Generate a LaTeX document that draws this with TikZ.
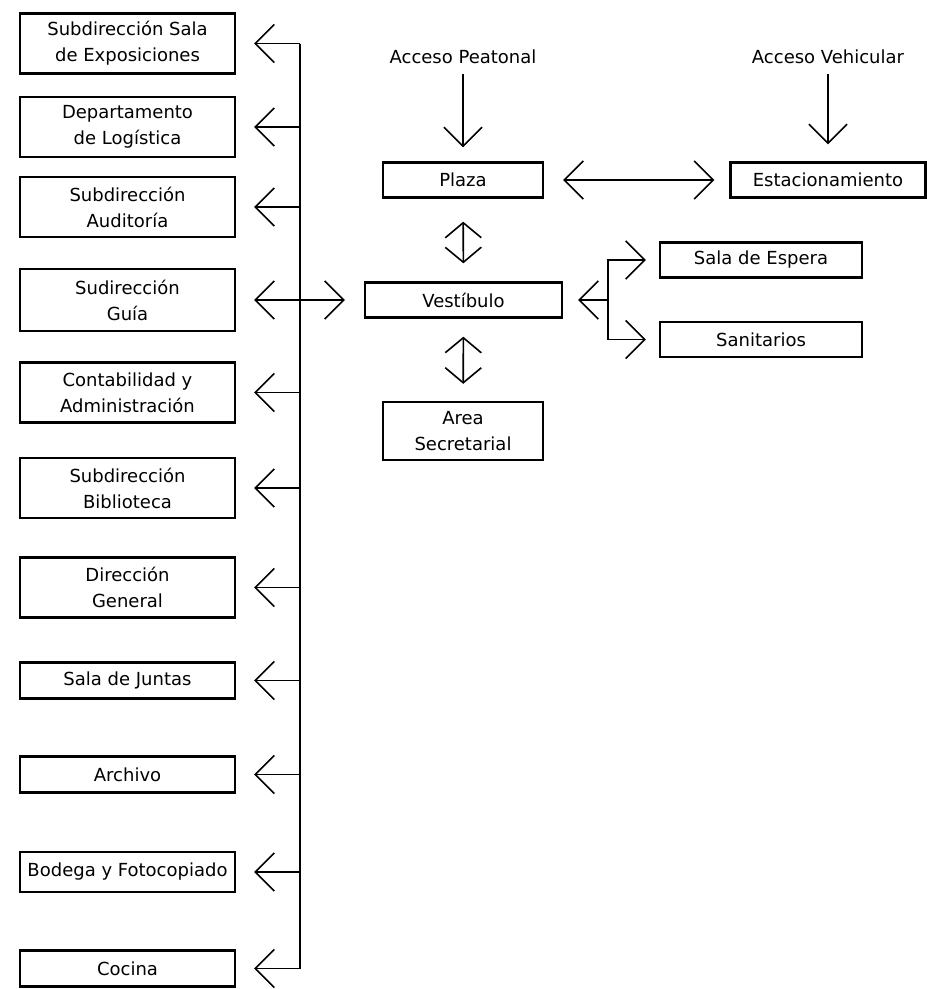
\documentclass[tikz,border=0pt]{standalone}
\usepackage{fontspec}
\setmainfont{DejaVu Sans}
\usetikzlibrary{arrows.meta}

\begin{document}
\begin{tikzpicture}[x=1pt, y=-1pt, >={Straight Barb[length=19pt,width=38pt]},
  box/.style={draw, line width=2.4pt, align=center, inner sep=2pt,
    font=\fontsize{18}{26}\selectfont},
  tall/.style={box, minimum width=215pt, minimum height=60pt},
  flat/.style={box, minimum width=215pt, minimum height=36pt},
  place/.style={box, minimum height=35pt},
  label/.style={font=\fontsize{18}{26}\selectfont, inner sep=2pt},
  link/.style={line width=1.6pt},
  short/.style={>={Straight Barb[length=15pt,width=36pt]}}]

  \useasboundingbox (0,0) rectangle (927,989);

  % Define nodes

  \node[tall] (sala) at (127.5,43.5) {Subdirección Sala\\de Exposiciones};
  \node[tall] (logistica) at (127.5,127) {Departamento\\de Logística};
  \node[tall] (auditoria) at (127.5,207) {Subdirección\\Auditoría};
  \node[tall, minimum height=62pt] (guia) at (127.5,300) {Sudirección\\Guía};
  \node[tall] (contab) at (127.5,392.5) {Contabilidad y\\Administración};
  \node[tall] (biblio) at (127.5,488) {Subdirección\\Biblioteca};
  \node[tall] (direccion) at (127.5,587.5) {Dirección\\General};
  \node[flat] (juntas) at (127.5,680.5) {Sala de Juntas};
  \node[flat] (archivo) at (127.5,774.5) {Archivo};
  \node[flat, minimum height=40pt] (bodega) at (127.5,872) {Bodega y Fotocopiado};
  \node[flat] (cocina) at (127.5,968.5) {Cocina};

  \node[label] (peatonal) at (463,57) {Acceso Peatonal};
  \node[label] (vehicular) at (828,57) {Acceso Vehicular};
  \node[place, minimum width=160pt] (plaza) at (463,180) {Plaza};
  \node[place, minimum width=195pt] (estac) at (828,180) {Estacionamiento};
  \node[place, minimum width=197pt] (vestibulo) at (463.5,300) {Vestíbulo};
  \node[place, minimum width=160pt, minimum height=58pt] (secret) at (463,431) {Area\\Secretarial};
  \node[place, minimum width=202pt] (espera) at (761,260) {Sala de Espera};
  \node[place, minimum width=202pt] (sanit) at (761,339.5) {Sanitarios};

  \coordinate (bus top) at (300,43.5);
  \coordinate (bus bottom) at (300,968.5);
  \coordinate (fork) at (608,300);

  % Draw arrows
  \draw[link] (bus top) -- (bus bottom);
  \foreach \room in {sala,logistica,auditoria,contab,biblio,direccion,juntas,archivo,bodega,cocina}
    \draw[link, ->, shorten >=18pt] (\room -| bus top) -- (\room);
  \draw[link, <->, shorten <=18pt, shorten >=19pt] (guia) -- (vestibulo);

  \draw[link, ->, shorten <=8pt, shorten >=14pt] (peatonal) -- (plaza);
  \draw[link, ->, shorten <=8pt, shorten >=17pt] (vehicular) -- (estac);
  \draw[link, <->, shorten <=19pt, shorten >=15pt] (plaza) -- (estac);
  \draw[link, short, <->, shorten <=23pt, shorten >=18pt] (plaza) -- (vestibulo);
  \draw[link, short, <->, shorten <=18pt, shorten >=17pt] (vestibulo) -- (secret);

  \draw[link, ->, shorten >=15pt] (fork) -- (vestibulo);
  \draw[link, ->, shorten >=13pt] (fork) |- (espera);
  \draw[link, ->, shorten >=13pt] (fork) |- (sanit);
\end{tikzpicture}
\end{document}
